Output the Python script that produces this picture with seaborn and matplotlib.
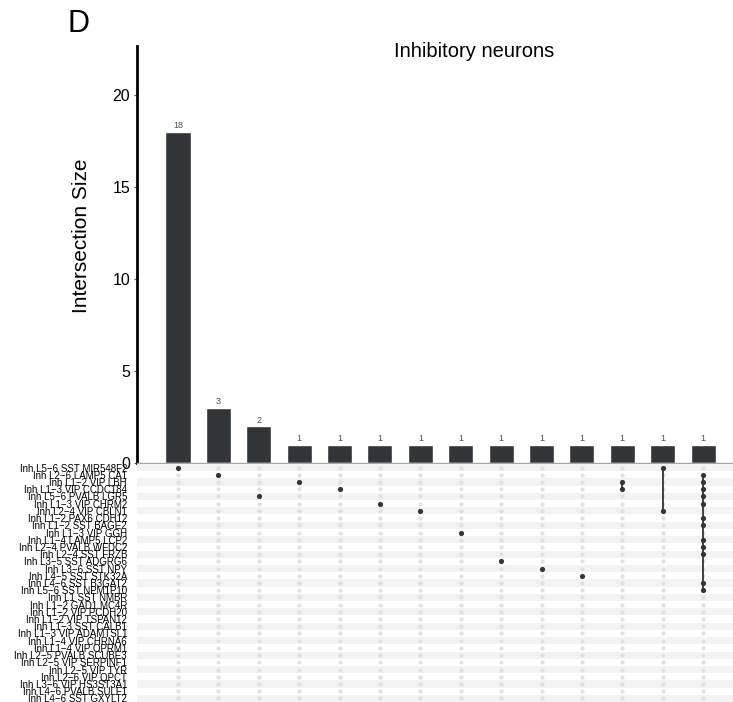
import numpy as np
import pandas as pd
import matplotlib
matplotlib.use("Agg")
import matplotlib.pyplot as plt
import seaborn as sns

M = "\u2212"
sets = [
    f"Inh L5{M}6 SST MIR548F2", f"Inh L2{M}6 LAMP5 CA1", f"Inh L1{M}2 VIP LBH",
    f"Inh L1{M}3 VIP CCDC184", f"Inh L5{M}6 PVALB LGR5", f"Inh L1{M}3 VIP CHRM2",
    f"Inh L2{M}4 VIP CBLN1", f"Inh L1{M}2 PAX6 CDH12", f"Inh L1{M}2 SST BAGE2",
    f"Inh L1{M}3 VIP GGH", f"Inh L1{M}4 LAMP5 LCP2", f"Inh L2{M}4 PVALB WFDC2",
    f"Inh L2{M}4 SST FRZB", f"Inh L3{M}5 SST ADGRG6", f"Inh L3{M}6 SST NPY",
    f"Inh L4{M}5 SST STK32A", f"Inh L4{M}6 SST B3GAT2", f"Inh L5{M}6 SST NPM1P10",
    "Inh L1 SST NMBR", f"Inh L1{M}2 GAD1 MC4R", f"Inh L1{M}2 VIP PCDH20",
    f"Inh L1{M}2 VIP TSPAN12", f"Inh L1{M}3 SST CALB1", f"Inh L1{M}3 VIP ADAMTSL1",
    f"Inh L1{M}4 VIP CHRNA6", f"Inh L1{M}4 VIP OPRM1", f"Inh L2{M}5 PVALB SCUBE3",
    f"Inh L2{M}5 VIP SERPINF1", f"Inh L2{M}5 VIP TYR", f"Inh L2{M}6 VIP QPCT",
    f"Inh L3{M}6 VIP HS3ST3A1", f"Inh L4{M}6 PVALB SULF1", f"Inh L4{M}6 SST GXYLT2",
]

counts = [18, 3, 2, 1, 1, 1, 1, 1, 1, 1, 1, 1, 1, 1]

members = [
    [sets[0]],
    [sets[1]],
    [sets[4]],
    [sets[2]],
    [sets[3]],
    [sets[5]],
    [sets[6]],
    [sets[9]],
    [sets[13]],
    [sets[14]],
    [sets[15]],
    [sets[2], sets[3]],
    [sets[0], sets[6]],
    [sets[1], sets[2], sets[3], sets[4], sets[5], sets[7], sets[8],
     sets[10], sets[11], sets[12], sets[16], sets[17]],
]

sns.set_theme(style="white")
plt.rcParams['font.family'] = ['Liberation Sans', 'DejaVu Sans']

W, H = 733, 702
fig = plt.figure(figsize=(W / 100, H / 100), dpi=100)


def rect(x0, y0, x1, y1):
    return [x0 / W, 1 - y1 / H, (x1 - x0) / W, (y1 - y0) / H]


ax_bar = fig.add_axes(rect(137, 46, 733, 463))
ax_mat = fig.add_axes(rect(137, 464, 733, 702))

bar_color = "#323538"
ncol = len(counts)
XL = (-1.015, ncol - 1 + 0.74)

# ---- bars
df_bar = pd.DataFrame({"col": list(range(ncol)), "count": counts})
sns.barplot(data=df_bar, x="col", y="count", ax=ax_bar, color=bar_color,
            width=0.62, saturation=1, order=list(range(ncol)))
ax_bar.bar_label(ax_bar.containers[0], fontsize=6.5, color="#4D4D4D", padding=1)
ax_bar.set_xlim(*XL)
ax_bar.set_ylim(0, 22.66)
ax_bar.set_yticks([0, 5, 10, 15, 20])
ax_bar.set_xticks([])
ax_bar.set_xlabel("")
ax_bar.set_ylabel("Intersection Size", fontsize=15, color="black")
ax_bar.yaxis.set_label_coords(-0.0772, 0.5456)
ax_bar.tick_params(axis="y", labelsize=11.5, length=2, width=0.8, color="#555555",
                   left=True, pad=3, labelcolor="black")
for s in ["top", "right"]:
    ax_bar.spines[s].set_visible(False)
ax_bar.spines["left"].set_color("black")
ax_bar.spines["left"].set_linewidth(2)
ax_bar.spines["bottom"].set_color("#A6A6A6")
ax_bar.spines["bottom"].set_linewidth(1)

# ---- matrix
nrow = len(sets)
for r in range(0, nrow, 2):
    ax_mat.axhspan(r - 0.5, r + 0.5, color="#F2F3F3", lw=0, zorder=0)

rows = []
for c, mem in enumerate(members):
    for r, s in enumerate(sets):
        rows.append({"col": c, "row": r, "on": s in mem})
df_mat = pd.DataFrame(rows)

sns.scatterplot(data=df_mat[~df_mat["on"]], x="col", y="row", ax=ax_mat,
                color="#E0E0E0", s=9, linewidth=0, zorder=2, legend=False)
for c, mem in enumerate(members):
    if len(mem) > 1:
        idx = [sets.index(m) for m in mem]
        ax_mat.plot([c, c], [min(idx), max(idx)], color=bar_color, lw=1.3, zorder=3)
sns.scatterplot(data=df_mat[df_mat["on"]], x="col", y="row", ax=ax_mat,
                color=bar_color, s=14, linewidth=0, zorder=4, legend=False)

ax_mat.set_xlim(*XL)
ax_mat.set_ylim(nrow - 0.5, -0.5)
ax_mat.set_yticks(range(nrow))
ax_mat.set_yticklabels(sets, fontsize=7.0, color="black")
ax_mat.set_xticks([])
ax_mat.set_xlabel("")
ax_mat.set_ylabel("")
ax_mat.tick_params(axis="y", length=0, pad=7.2)
for s in ax_mat.spines.values():
    s.set_visible(False)

fig.text(474 / W, 1 - 57 / H, "Inhibitory neurons", fontsize=14.5,
         ha="center", va="baseline", color="black")
fig.text(67 / W, 1 - 32 / H, "D", fontsize=22, ha="left", va="baseline",
         color="black")

fig.savefig("out.png", dpi=100)
